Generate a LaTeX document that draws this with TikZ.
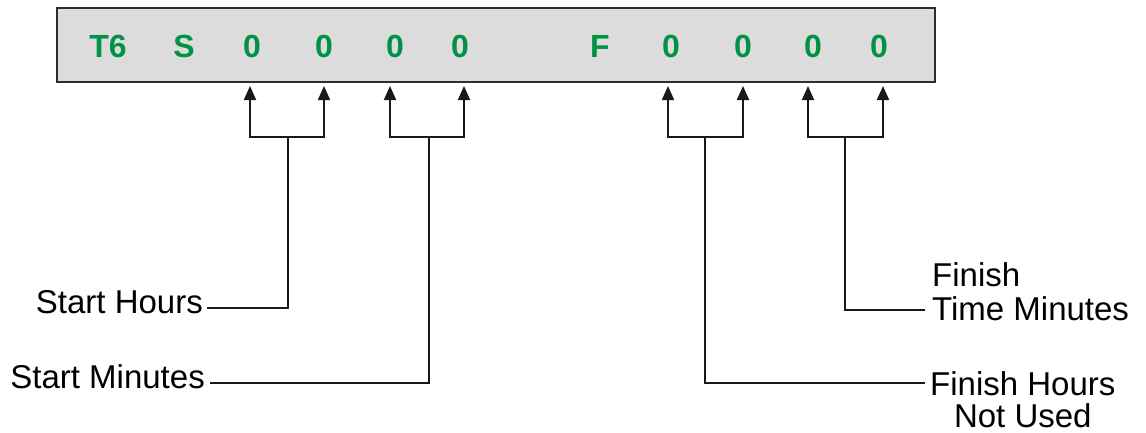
\documentclass[tikz,border=0pt]{standalone}
\usepackage{fontspec}
\setmainfont{Liberation Sans}
\usetikzlibrary{arrows.meta}
\definecolor{regfill}{RGB}{220,220,220}
\definecolor{regedge}{RGB}{45,45,45}
\definecolor{digitgreen}{RGB}{0,146,69}
\begin{document}
\begin{tikzpicture}[x=1pt,y=-1pt,
    digit/.style={font=\fontsize{32}{32}\selectfont\bfseries,text=digitgreen,anchor=base,inner sep=0},
    lbl/.style={font=\fontsize{33}{33}\selectfont,inner sep=0},
    wire/.style={line width=2pt,black!90},
    ptr/.style={wire,-{Triangle[length=14pt,width=12pt]}}]
  \useasboundingbox (0,0) rectangle (1146,432);
  % register box and its fields
  \node[draw=regedge,line width=1.8pt,fill=regfill,minimum width=878pt,minimum height=74pt,inner sep=0]
    (reg) at (496,45) {};
  \path
    (108,57) node[digit] (t6){T6}
    (184,57) node[digit] (s){S}
    (252,57) node[digit] (sh1){0}
    (324,57) node[digit] (sh2){0}
    (395,57) node[digit] (sm1){0}
    (460,57) node[digit] (sm2){0}
    (600,57) node[digit] (f){F}
    (671,57) node[digit] (fh1){0}
    (743,57) node[digit] (fh2){0}
    (813,57) node[digit] (fm1){0}
    (879,57) node[digit] (fm2){0};
  % pointer tips and stem ends
  \path
    (250,86) coordinate (p1)
    (324,86) coordinate (p2)
    (390,86) coordinate (p3)
    (464,86) coordinate (p4)
    (668,86) coordinate (p5)
    (743,86) coordinate (p6)
    (808,86) coordinate (p7)
    (883,86) coordinate (p8)
    (288,137) coordinate (b1)
    (429,137) coordinate (b2)
    (705,137) coordinate (b3)
    (845,137) coordinate (b4);
  % labels
  \node[lbl,anchor=base east] (lsh) at (203,313) {Start Hours};
  \node[lbl,anchor=base east] (lsm) at (205,388) {Start Minutes};
  \node[lbl,font=\fontsize{33}{34}\selectfont,anchor=north west,align=left] (lfm) at (932,262) {Finish\\Time Minutes};
  \node[lbl,font=\fontsize{33}{32}\selectfont,anchor=north west,align=center] (lfh) at (930,371) {Finish Hours\\Not Used};
  \begin{scope}
    \draw[ptr] (b1) -| (p1);
    \draw[ptr] (b1) -| (p2);
    \draw[ptr] (b2) -| (p3);
    \draw[ptr] (b2) -| (p4);
    \draw[ptr] (b3) -| (p5);
    \draw[ptr] (b3) -| (p6);
    \draw[ptr] (b4) -| (p7);
    \draw[ptr] (b4) -| (p8);
    \draw[wire] ([shift={(4,-5)}]lsh.base east) -| (b1);
    \draw[wire] ([shift={(5,-5)}]lsm.base east) -| (b2);
    \draw[wire] ([xshift=-7pt]lfm.west |- 0,310) -| (b4);
    \draw[wire] ([xshift=-5pt]lfh.west |- 0,383) -| (b3);
  \end{scope}
\end{tikzpicture}
\end{document}
